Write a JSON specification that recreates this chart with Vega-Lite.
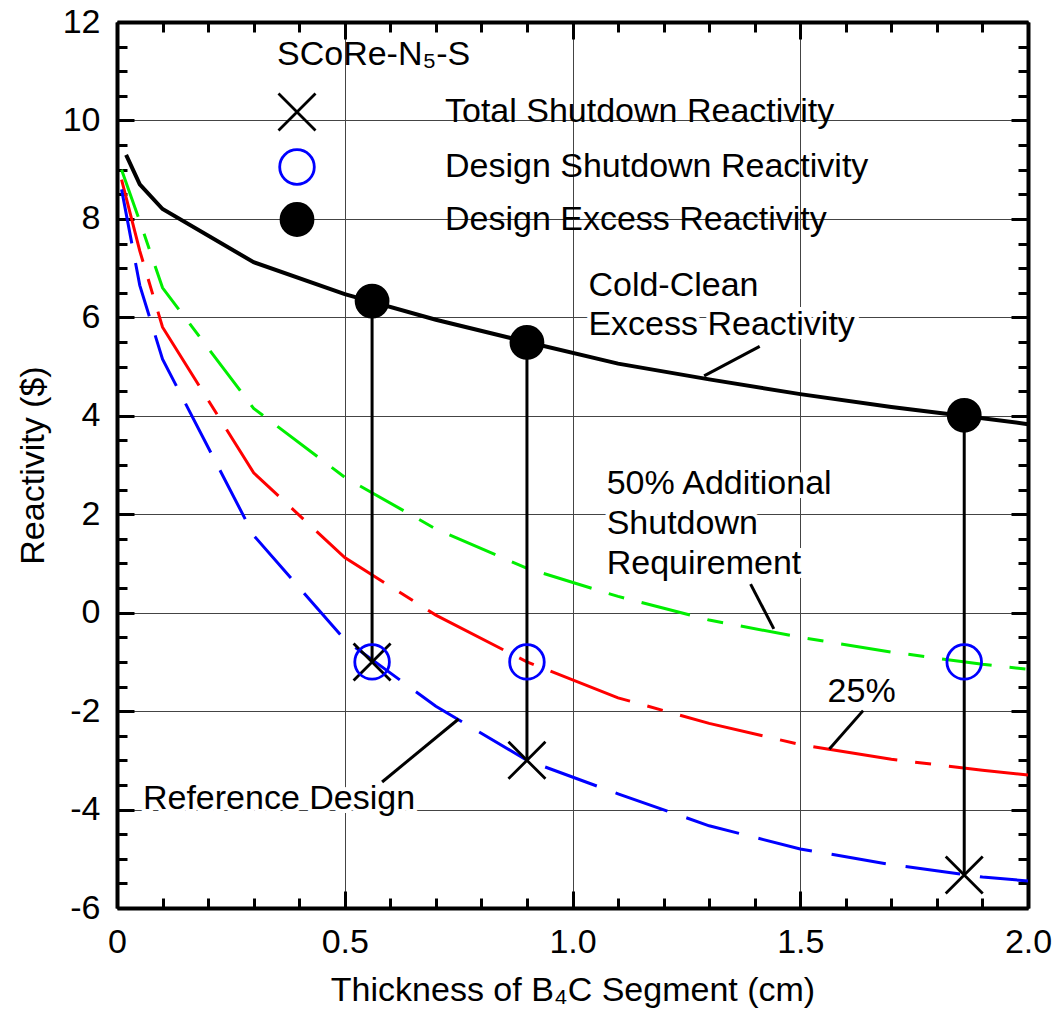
{
  "$schema": "https://vega.github.io/schema/vega-lite/v6.json",
  "width": 911,
  "height": 886,
  "autosize": {"type": "none"},
  "padding": {"left": 117, "top": 22, "right": 30, "bottom": 107},
  "config": {
    "font": "Liberation Sans",
    "view": {"stroke": null},
    "axis": {
      "labelFontSize": 34, "labelColor": "black", "labelFont": "Liberation Sans", "labelFlush": false, "labelOverlap": false,
      "titleFontSize": 34, "titleFontWeight": "normal", "titleColor": "black", "titleFont": "Liberation Sans",
      "tickColor": "black", "tickWidth": 3, "domainColor": "black", "domainWidth": 4,
      "gridColor": "#444", "gridWidth": 1, "gridOpacity": 1
    },
    "legend": {
      "orient": "none", "legendX": 160, "legendY": 16,
      "titleFontSize": 34, "titleFontWeight": "normal", "titleColor": "black", "titleFont": "Liberation Sans",
      "titlePadding": 20, "titleLimit": 600,
      "labelFontSize": 34, "labelColor": "black", "labelFont": "Liberation Sans", "labelLimit": 700,
      "labelOffset": 128, "rowPadding": 7, "symbolStrokeWidth": 2.8, "padding": 0
    }
  },
  "datasets": {
    "curves": [
      {"s": "k", "x": 0.02, "y": 9.3}, {"s": "k", "x": 0.05, "y": 8.7}, {"s": "k", "x": 0.1, "y": 8.2},
      {"s": "k", "x": 0.3, "y": 7.12}, {"s": "k", "x": 0.5, "y": 6.47}, {"s": "k", "x": 0.7, "y": 5.95},
      {"s": "k", "x": 0.9, "y": 5.5}, {"s": "k", "x": 1.1, "y": 5.06}, {"s": "k", "x": 1.3, "y": 4.74},
      {"s": "k", "x": 1.5, "y": 4.44}, {"s": "k", "x": 1.7, "y": 4.18}, {"s": "k", "x": 1.9, "y": 3.95},
      {"s": "k", "x": 2.0, "y": 3.83},
      {"s": "g", "x": 0.01, "y": 9.0}, {"s": "g", "x": 0.05, "y": 7.95}, {"s": "g", "x": 0.1, "y": 6.6},
      {"s": "g", "x": 0.3, "y": 4.15}, {"s": "g", "x": 0.5, "y": 2.75}, {"s": "g", "x": 0.7, "y": 1.7},
      {"s": "g", "x": 0.9, "y": 0.9}, {"s": "g", "x": 1.1, "y": 0.33}, {"s": "g", "x": 1.3, "y": -0.15},
      {"s": "g", "x": 1.5, "y": -0.5}, {"s": "g", "x": 1.7, "y": -0.8}, {"s": "g", "x": 1.9, "y": -1.05},
      {"s": "g", "x": 2.0, "y": -1.15},
      {"s": "r", "x": 0.01, "y": 8.8}, {"s": "r", "x": 0.05, "y": 7.35}, {"s": "r", "x": 0.1, "y": 5.8},
      {"s": "r", "x": 0.3, "y": 2.84}, {"s": "r", "x": 0.5, "y": 1.12}, {"s": "r", "x": 0.7, "y": -0.05},
      {"s": "r", "x": 0.9, "y": -1.0}, {"s": "r", "x": 1.1, "y": -1.73}, {"s": "r", "x": 1.3, "y": -2.25},
      {"s": "r", "x": 1.5, "y": -2.68}, {"s": "r", "x": 1.7, "y": -2.98}, {"s": "r", "x": 1.9, "y": -3.2},
      {"s": "r", "x": 2.0, "y": -3.3},
      {"s": "b", "x": 0.01, "y": 8.6}, {"s": "b", "x": 0.05, "y": 6.65}, {"s": "b", "x": 0.1, "y": 5.15},
      {"s": "b", "x": 0.3, "y": 1.57}, {"s": "b", "x": 0.5, "y": -0.55}, {"s": "b", "x": 0.7, "y": -1.9},
      {"s": "b", "x": 0.9, "y": -3.0}, {"s": "b", "x": 1.1, "y": -3.68}, {"s": "b", "x": 1.3, "y": -4.33},
      {"s": "b", "x": 1.5, "y": -4.8}, {"s": "b", "x": 1.7, "y": -5.12}, {"s": "b", "x": 1.9, "y": -5.37},
      {"s": "b", "x": 2.0, "y": -5.45}
    ],
    "markers": [
      {"kind": "Total Shutdown Reactivity", "x": 0.56, "y": -1.0},
      {"kind": "Total Shutdown Reactivity", "x": 0.9, "y": -3.0},
      {"kind": "Total Shutdown Reactivity", "x": 1.86, "y": -5.33},
      {"kind": "Design Shutdown Reactivity", "x": 0.56, "y": -1.0},
      {"kind": "Design Shutdown Reactivity", "x": 0.9, "y": -1.0},
      {"kind": "Design Shutdown Reactivity", "x": 1.86, "y": -1.0},
      {"kind": "Design Excess Reactivity", "x": 0.56, "y": 6.33},
      {"kind": "Design Excess Reactivity", "x": 0.9, "y": 5.49},
      {"kind": "Design Excess Reactivity", "x": 1.86, "y": 4.01}
    ],
    "drops": [
      {"x": 0.56, "top": 6.33, "bottom": -1.0},
      {"x": 0.9, "top": 5.49, "bottom": -3.0},
      {"x": 1.86, "top": 4.01, "bottom": -5.33}
    ],
    "notes": [
      {"x": 1.035, "y": 6.63, "t": "Cold-Clean"},
      {"x": 1.035, "y": 5.85, "t": "Excess Reactivity"},
      {"x": 1.075, "y": 2.61, "t": "50% Additional"},
      {"x": 1.075, "y": 1.8, "t": "Shutdown"},
      {"x": 1.075, "y": 0.99, "t": "Requirement"},
      {"x": 1.56, "y": -1.61, "t": "25%"},
      {"x": 0.057, "y": -3.78, "t": "Reference Design"}
    ],
    "leaders": [
      {"x": 1.411, "y": 5.41, "x2": 1.289, "y2": 4.81},
      {"x": 1.391, "y": 0.58, "x2": 1.442, "y2": -0.33},
      {"x": 1.638, "y": -1.99, "x2": 1.564, "y2": -2.77},
      {"x": 0.582, "y": -3.44, "x2": 0.75, "y2": -2.16}
    ]
  },
  "layer": [
    {
      "data": {"name": "curves"},
      "transform": [{"filter": "datum.s === 'g'"}],
      "mark": {"type": "line", "color": "#00ee00", "strokeWidth": 3, "strokeDash": [50, 18, 16, 18]},
      "encoding": {
        "x": {"field": "x", "type": "quantitative", "scale": {"domain": [0, 2], "nice": false, "zero": false},
          "axis": {"orient": "bottom", "values": [0, 0.5, 1, 1.5, 2], "labelExpr": "datum.value == 0 ? '0' : format(datum.value, '.1f')",
            "grid": true, "domain": true, "ticks": true, "tickSize": -17, "labelPadding": 34,
            "title": "Thickness of B₄C Segment (cm)", "titlePadding": 14}},
        "y": {"field": "y", "type": "quantitative", "scale": {"domain": [-6, 12], "nice": false, "zero": false},
          "axis": {"orient": "left", "values": [-6, -4, -2, 0, 2, 4, 6, 8, 10, 12], "labelExpr": "'' + datum.value",
            "grid": true, "domain": true, "ticks": true, "tickSize": -17, "labelPadding": 34,
            "title": "Reactivity ($)", "titlePadding": 12}}
      }
    },
    {
      "data": {"name": "curves"},
      "transform": [{"filter": "datum.s === 'r'"}],
      "mark": {"type": "line", "color": "#ff0000", "strokeWidth": 3, "strokeDash": [85, 18, 16, 18]},
      "encoding": {
        "x": {"field": "x", "type": "quantitative", "scale": {"domain": [0, 2], "nice": false, "zero": false},
          "axis": {"orient": "bottom", "values": [0.1, 0.2, 0.3, 0.4, 0.6, 0.7, 0.8, 0.9, 1.1, 1.2, 1.3, 1.4, 1.6, 1.7, 1.8, 1.9],
            "labels": false, "grid": false, "domain": false, "ticks": true, "tickSize": -10, "title": null}},
        "y": {"field": "y", "type": "quantitative", "scale": {"domain": [-6, 12], "nice": false, "zero": false},
          "axis": {"orient": "left", "values": [-5.5, -5, -4.5, -3.5, -3, -2.5, -1.5, -1, -0.5, 0.5, 1, 1.5, 2.5, 3, 3.5, 4.5, 5, 5.5, 6.5, 7, 7.5, 8.5, 9, 9.5, 10.5, 11, 11.5],
            "labels": false, "grid": false, "domain": false, "ticks": true, "tickSize": -10, "title": null}}
      }
    },
    {
      "data": {"name": "curves"},
      "transform": [{"filter": "datum.s === 'b'"}],
      "mark": {"type": "line", "color": "#0000ff", "strokeWidth": 3, "strokeDash": [55, 20]},
      "encoding": {
        "x": {"field": "x", "type": "quantitative", "scale": {"domain": [0, 2], "nice": false, "zero": false},
          "axis": {"orient": "top", "values": [0, 0.5, 1, 1.5, 2], "labels": false, "grid": false, "domain": true, "ticks": true, "tickSize": -17, "title": null}},
        "y": {"field": "y", "type": "quantitative", "scale": {"domain": [-6, 12], "nice": false, "zero": false},
          "axis": {"orient": "right", "values": [-6, -4, -2, 0, 2, 4, 6, 8, 10, 12], "labels": false, "grid": false, "domain": true, "ticks": true, "tickSize": -17, "title": null}}
      }
    },
    {
      "data": {"name": "curves"},
      "transform": [{"filter": "datum.s === 'k'"}],
      "mark": {"type": "line", "color": "black", "strokeWidth": 4},
      "encoding": {
        "x": {"field": "x", "type": "quantitative", "scale": {"domain": [0, 2], "nice": false, "zero": false},
          "axis": {"orient": "top", "values": [0.1, 0.2, 0.3, 0.4, 0.6, 0.7, 0.8, 0.9, 1.1, 1.2, 1.3, 1.4, 1.6, 1.7, 1.8, 1.9],
            "labels": false, "grid": false, "domain": false, "ticks": true, "tickSize": -10, "title": null}},
        "y": {"field": "y", "type": "quantitative", "scale": {"domain": [-6, 12], "nice": false, "zero": false},
          "axis": {"orient": "right", "values": [-5.5, -5, -4.5, -3.5, -3, -2.5, -1.5, -1, -0.5, 0.5, 1, 1.5, 2.5, 3, 3.5, 4.5, 5, 5.5, 6.5, 7, 7.5, 8.5, 9, 9.5, 10.5, 11, 11.5],
            "labels": false, "grid": false, "domain": false, "ticks": true, "tickSize": -10, "title": null}}
      }
    },
    {
      "mark": {"type": "rule", "color": "black", "strokeWidth": 6},
      "encoding": {
        "y": {"datum": -1, "type": "quantitative", "scale": {"domain": [-6, 12], "nice": false, "zero": false}, "axis": null}
      }
    },
    {
      "data": {"name": "drops"},
      "mark": {"type": "rule", "color": "black", "strokeWidth": 3},
      "encoding": {
        "x": {"field": "x", "type": "quantitative", "scale": {"domain": [0, 2], "nice": false, "zero": false}, "axis": null},
        "y": {"field": "top", "type": "quantitative", "scale": {"domain": [-6, 12], "nice": false, "zero": false}, "axis": null},
        "y2": {"field": "bottom"}
      }
    },
    {
      "data": {"name": "leaders"},
      "mark": {"type": "rule", "color": "black", "strokeWidth": 3},
      "encoding": {
        "x": {"field": "x", "type": "quantitative", "scale": {"domain": [0, 2], "nice": false, "zero": false}, "axis": null},
        "y": {"field": "y", "type": "quantitative", "scale": {"domain": [-6, 12], "nice": false, "zero": false}, "axis": null},
        "x2": {"field": "x2"},
        "y2": {"field": "y2"}
      }
    },
    {
      "data": {"name": "notes"},
      "mark": {"type": "text", "align": "left", "baseline": "middle", "fontSize": 34, "fill": "white", "stroke": "white", "strokeWidth": 8, "font": "Liberation Sans"},
      "encoding": {
        "x": {"field": "x", "type": "quantitative", "scale": {"domain": [0, 2], "nice": false, "zero": false}, "axis": null},
        "y": {"field": "y", "type": "quantitative", "scale": {"domain": [-6, 12], "nice": false, "zero": false}, "axis": null},
        "text": {"field": "t"}
      }
    },
    {
      "data": {"name": "notes"},
      "mark": {"type": "text", "align": "left", "baseline": "middle", "fontSize": 34, "color": "black", "font": "Liberation Sans"},
      "encoding": {
        "x": {"field": "x", "type": "quantitative", "scale": {"domain": [0, 2], "nice": false, "zero": false}, "axis": null},
        "y": {"field": "y", "type": "quantitative", "scale": {"domain": [-6, 12], "nice": false, "zero": false}, "axis": null},
        "text": {"field": "t"}
      }
    },
    {
      "data": {"name": "markers"},
      "mark": {"type": "point", "strokeWidth": 2.8, "opacity": 1},
      "encoding": {
        "x": {"field": "x", "type": "quantitative", "scale": {"domain": [0, 2], "nice": false, "zero": false}, "axis": null},
        "y": {"field": "y", "type": "quantitative", "scale": {"domain": [-6, 12], "nice": false, "zero": false}, "axis": null},
        "shape": {"field": "kind", "type": "nominal", "title": "SCoRe-N₅-S",
          "scale": {"domain": ["Total Shutdown Reactivity", "Design Shutdown Reactivity", "Design Excess Reactivity"], "range": ["M-1,-1L1,1M1,-1L-1,1", "circle", "circle"]}},
        "stroke": {"field": "kind", "type": "nominal", "title": "SCoRe-N₅-S",
          "scale": {"domain": ["Total Shutdown Reactivity", "Design Shutdown Reactivity", "Design Excess Reactivity"], "range": ["black", "#0000ff", "black"]}},
        "fill": {"field": "kind", "type": "nominal", "title": "SCoRe-N₅-S",
          "scale": {"domain": ["Total Shutdown Reactivity", "Design Shutdown Reactivity", "Design Excess Reactivity"], "range": ["transparent", "transparent", "black"]}},
        "size": {"field": "kind", "type": "nominal", "title": "SCoRe-N₅-S",
          "scale": {"domain": ["Total Shutdown Reactivity", "Design Shutdown Reactivity", "Design Excess Reactivity"], "range": [1369, 1024, 1296]}}
      }
    }
  ],
  "resolve": {"axis": {"x": "independent", "y": "independent"}}
}
